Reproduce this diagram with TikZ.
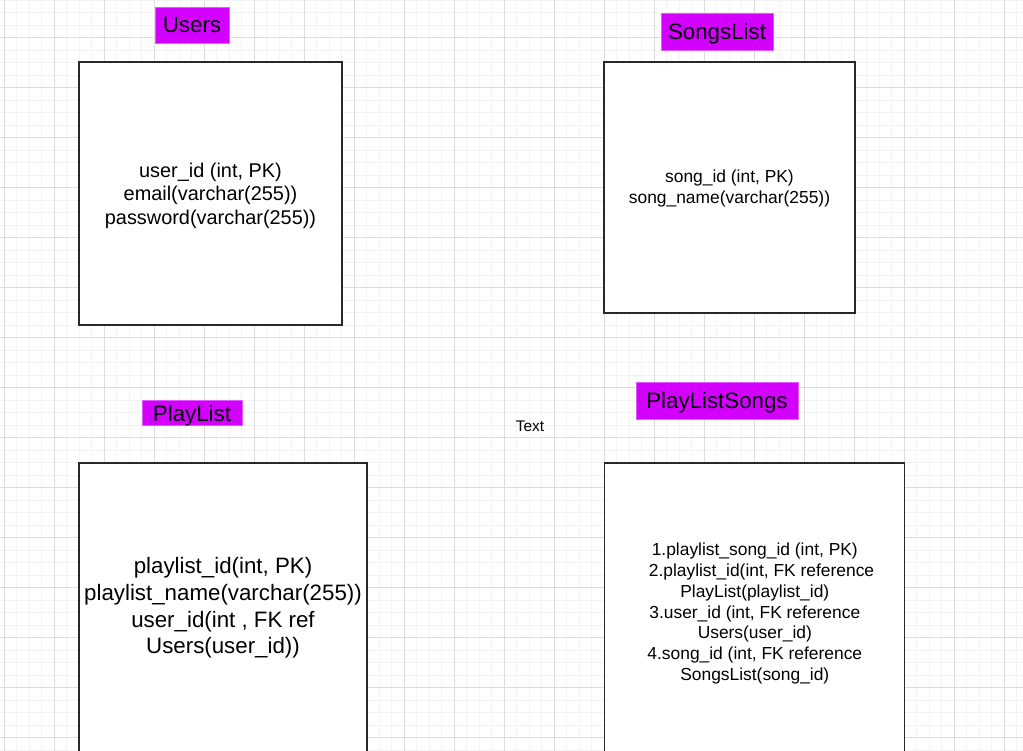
\documentclass[tikz,border=0pt]{standalone}
\usepackage{fontspec}
\setmainfont{Liberation Sans}
\definecolor{tagfill}{RGB}{212,0,255}
\definecolor{tagline}{RGB}{224,90,255}
\definecolor{gridminor}{RGB}{243,243,243}
\definecolor{gridmajor}{RGB}{221,221,221}
\definecolor{boxline}{RGB}{40,40,40}
\tikzset{
  tablebox/.style={draw=boxline, line width=1.2pt, fill=white, rectangle, inner sep=0pt},
  tabletag/.style={fill=tagfill, draw=tagline, line width=0.6pt, rectangle, inner sep=0pt,
                   font=\fontsize{22.3}{26}\selectfont, text=black, text depth=0pt,
                   text height=16pt},
  fields/.style={align=center, inner sep=0pt, text=black},
}
\begin{document}
\begin{tikzpicture}[x=1pt, y=-1pt]
  \useasboundingbox (0,0) rectangle (1023,751);
  \fill[white] (0,0) rectangle (1023,751);
  % background grid: fine lines every 12.5, heavier every 50
  \foreach \i in {0,...,82} {
    \draw[gridminor, line width=0.9pt] ({4.3+12.5*\i},0) -- ({4.3+12.5*\i},751);
  }
  \foreach \i in {0,...,61} {
    \draw[gridminor, line width=0.9pt] (0,{0.2+12.5*\i}) -- (1023,{0.2+12.5*\i});
  }
  \foreach \i in {0,...,20} {
    \draw[gridmajor, line width=0.9pt] ({4.3+50*\i},0) -- ({4.3+50*\i},751);
  }
  \foreach \i in {0,...,15} {
    \draw[gridmajor, line width=0.9pt] (0,{37.7+50*\i}) -- (1023,{37.7+50*\i});
  }

  % tables
  \node[tablebox, minimum width=263pt, minimum height=263pt] (users) at (210.5,193.5) {};
  \node[tablebox, minimum width=251pt, minimum height=251pt] (songs) at (729.5,187.5) {};
  \node[tablebox, minimum width=288pt, minimum height=292pt] (playlist) at (223,609) {};
  \node[tablebox, minimum width=300pt, minimum height=292pt] (plsongs) at (754.8,609) {};

  % table titles
  \node[tabletag, minimum width=74pt, minimum height=36pt] (usersTag) at (192,25) {Users};
  \node[tabletag, minimum width=112pt, minimum height=37pt] (songsTag) at (717,31.5) {SongsList};
  \node[tabletag, minimum width=100pt, minimum height=24.5pt] (playlistTag) at (192,413) {PlayList};
  \node[tabletag, minimum width=162pt, minimum height=37pt] (plsongsTag) at (717,400.3) {PlayListSongs};

  % columns
  \node[fields, font=\fontsize{19.9}{23.5}\selectfont] (usersCols) at (210.5,195.5)
    {user\_id (int, PK)\\email(varchar(255))\\password(varchar(255))};
  \node[fields, font=\fontsize{17.4}{21}\selectfont] (songsCols) at (729.5,189)
    {song\_id (int, PK)\\song\_name(varchar(255))};
  \node[fields, font=\fontsize{22.3}{26.8}\selectfont] (playlistCols) at (223,608)
    {playlist\_id(int, PK)\\playlist\_name(varchar(255))\\user\_id(int , FK ref\\Users(user\_id))};
  \node[fields, font=\fontsize{17.4}{20.9}\selectfont] (plsongsCols) at (754.8,613.5)
    {1.playlist\_song\_id (int, PK)\\\hspace*{13.4pt}2.playlist\_id(int, FK reference\\PlayList(playlist\_id)\\3.user\_id (int, FK reference\\Users(user\_id)\\4.song\_id (int, FK reference\\SongsList(song\_id)};

  \node[fields, font=\fontsize{15.4}{18}\selectfont] (freeText) at (530,426) {Text};
\end{tikzpicture}
\end{document}
